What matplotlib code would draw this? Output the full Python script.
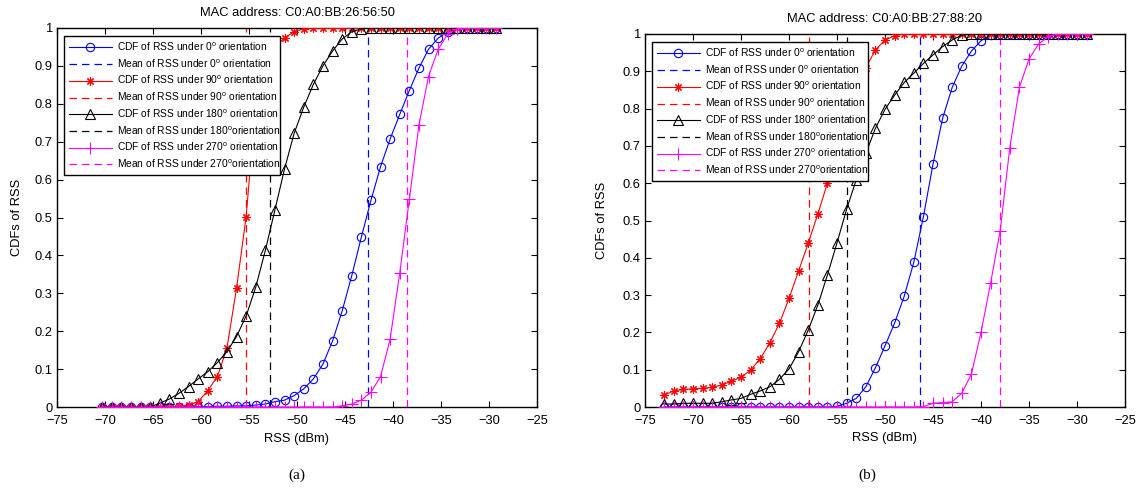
import matplotlib
matplotlib.use("Agg")
import matplotlib.pyplot as plt

plt.rcParams['font.family'] = ['Liberation Sans', 'DejaVu Sans']
plt.rcParams['mathtext.fontset'] = 'custom'
plt.rcParams['mathtext.rm'] = 'Liberation Sans'
plt.rcParams['mathtext.it'] = 'Liberation Sans'

# ---------------- data: panel (a) ----------------
title_a = "MAC address: C0:A0:BB:26:56:50"
x_a = [-70.3, -69.3, -68.3, -67.3, -66.3, -65.3, -64.3, -63.3, -62.3, -61.3,
       -60.3, -59.3, -58.3, -57.3, -56.3, -55.3, -54.3, -53.3, -52.3, -51.3,
       -50.3, -49.3, -48.3, -47.3, -46.3, -45.3, -44.3, -43.3, -42.3, -41.3,
       -40.3, -39.3, -38.3, -37.3, -36.3, -35.3, -34.3, -33.3, -32.3, -31.3,
       -30.3, -29.3]
cdf0_a = [0, 0, 0, 0, 0, 0, 0, 0, 0, 0, 0.001, 0.001, 0.002, 0.002, 0.003, 0.003,
          0.005, 0.008, 0.014, 0.018, 0.03, 0.048, 0.074, 0.113, 0.174, 0.253,
          0.346, 0.448, 0.545, 0.634, 0.707, 0.772, 0.835, 0.894, 0.944, 0.973,
          0.99, 0.998, 1, 1, 1, 1]
cdf90_a = [0, 0, 0, 0, 0, 0, 0, 0.001, 0.002, 0.005, 0.014, 0.043, 0.08, 0.155,
           0.313, 0.502, 0.8, 0.9, 0.95, 0.974, 0.99, 0.998,
           1, 1, 1, 1, 1, 1, 1, 1, 1, 1, 1, 1, 1, 1, 1, 1, 1, 1, 1, 1]
cdf180_a = [0, 0, 0, 0, 0, 0, 0.01, 0.021, 0.036, 0.054, 0.074, 0.093, 0.117,
            0.146, 0.186, 0.24, 0.316, 0.413, 0.52, 0.628, 0.722, 0.791, 0.851,
            0.9, 0.939, 0.971, 0.99, 0.998,
            1, 1, 1, 1, 1, 1, 1, 1, 1, 1, 1, 1, 1, 1]
cdf270_a = [0, 0, 0, 0, 0, 0, 0, 0, 0, 0, 0, 0, 0, 0, 0, 0, 0, 0, 0, 0, 0, 0, 0,
            0, 0, 0.003, 0.008, 0.018, 0.039, 0.08, 0.179, 0.353, 0.548, 0.744,
            0.872, 0.944, 0.984, 0.998, 1, 1, 1, 1]
means_a = [-42.6, -55.3, -52.8, -38.5]   # 0, 90, 180, 270 degrees

# ---------------- data: panel (b) ----------------
title_b = "MAC address: C0:A0:BB:27:88:20"
x_b = [-73, -72, -71, -70, -69, -68, -67, -66, -65, -64, -63, -62, -61, -60,
       -59, -58, -57, -56, -55, -54, -53, -52, -51, -50, -49, -48, -47, -46,
       -45, -44, -43, -42, -41, -40, -39, -38, -37, -36, -35, -34, -33, -32,
       -31, -30, -29]
cdf0_b = [0, 0, 0, 0, 0, 0, 0, 0, 0, 0, 0, 0, 0, 0, 0, 0, 0, 0, 0.002,
          0.01, 0.023, 0.054, 0.105, 0.164, 0.225, 0.297, 0.388, 0.51, 0.651,
          0.774, 0.857, 0.914, 0.954, 0.982, 0.997,
          1, 1, 1, 1, 1, 1, 1, 1, 1, 1]
cdf90_b = [0.032, 0.043, 0.047, 0.049, 0.05, 0.053, 0.059, 0.069, 0.08, 0.099,
           0.129, 0.172, 0.224, 0.291, 0.365, 0.439, 0.517, 0.6, 0.69, 0.77,
           0.85, 0.91, 0.957, 0.984, 0.995,
           1, 1, 1, 1, 1, 1, 1, 1, 1, 1, 1, 1, 1, 1, 1, 1, 1, 1, 1, 1]
cdf180_b = [0.008, 0.008, 0.01, 0.01, 0.01, 0.01, 0.014, 0.019, 0.023, 0.034,
            0.043, 0.054, 0.074, 0.102, 0.148, 0.206, 0.273, 0.354, 0.44, 0.53,
            0.609, 0.68, 0.747, 0.798, 0.836, 0.87, 0.895, 0.921, 0.944, 0.966,
            0.984, 0.997, 1, 1, 1, 1, 1, 1, 1, 1, 1, 1, 1, 1, 1]
cdf270_b = [0, 0, 0, 0, 0, 0, 0, 0, 0, 0, 0, 0, 0, 0, 0, 0, 0, 0, 0, 0, 0, 0,
            0, 0, 0, 0, 0, 0.001, 0.01, 0.012, 0.014, 0.037, 0.088, 0.2, 0.332,
            0.473, 0.695, 0.857, 0.933, 0.973, 0.993, 1, 1, 1, 1]
means_b = [-46.4, -57.9, -54.0, -38.0]

orient = ["0", "90", "180", "270"]
colors = ["#0000ff", "#ff0000", "#000000", "#ff00ff"]
markers = ["o", (8, 2, 0), "^", "+"]
msizes = [6, 6, 6.5, 8]
cdf_labels = ["CDF of RSS under 0$^{\\mathrm{o}}$ orientation",
              "CDF of RSS under 90$^{\\mathrm{o}}$ orientation",
              "CDF of RSS under 180$^{\\mathrm{o}}$ orientation",
              "CDF of RSS under 270$^{\\mathrm{o}}$ orientation"]
mean_labels = ["Mean of RSS under 0$^{\\mathrm{o}}$ orientation",
               "Mean of RSS under 90$^{\\mathrm{o}}$ orientation",
               "Mean of RSS under 180$^{\\mathrm{o}}$orientation",
               "Mean of RSS under 270$^{\\mathrm{o}}$orientation"]

xticks = [-75, -70, -65, -60, -55, -50, -45, -40, -35, -30, -25]
yticks = [0, 0.1, 0.2, 0.3, 0.4, 0.5, 0.6, 0.7, 0.8, 0.9, 1]
ytick_labels = ["0", "0.1", "0.2", "0.3", "0.4", "0.5", "0.6", "0.7", "0.8", "0.9", "1"]

W, H = 1142, 491
fig = plt.figure(figsize=(W / 100, H / 100), dpi=100)


def panel(rect, x, cdfs, means, title, ylabx, leg_top):
    ax = fig.add_axes(rect)
    for k in range(4):
        ax.plot(x, cdfs[k], color=colors[k], lw=0.8, marker=markers[k],
                ms=msizes[k], mfc='none', mec=colors[k], mew=0.8,
                label=cdf_labels[k], zorder=3)
        ax.plot([means[k], means[k]], [0, 1], color=colors[k], lw=0.9,
                dashes=(6, 4), label=mean_labels[k], zorder=2)
    ax.set_xlim(-75, -25)
    ax.set_ylim(0, 1)
    ax.set_xticks(xticks)
    ax.set_yticks(yticks)
    ax.set_yticklabels(ytick_labels)
    ax.tick_params(direction='in', top=True, right=True, length=4, width=0.8,
                   labelsize=9.3)
    ax.tick_params(axis='x', pad=5.5)
    ax.tick_params(axis='y', pad=3)
    for s in ax.spines.values():
        s.set_linewidth(1.0)
    ax.set_title(title, fontsize=9.3, pad=8.5)
    ax.set_xlabel("RSS (dBm)", fontsize=9.3, va='center')
    ax.set_ylabel("CDFs of RSS", fontsize=9.3, va='center')
    ax.xaxis.set_label_coords(0.5, -0.084)
    ax.yaxis.set_label_coords(ylabx, 0.5)
    h, l = ax.get_legend_handles_labels()
    leg = ax.legend(h, l,
                    loc='upper left', bbox_to_anchor=(0.0146, leg_top, 0.45, 0),
                    mode='expand', borderaxespad=0, fontsize=7.4,
                    handlelength=4.2, handletextpad=0.5, labelspacing=0.42,
                    borderpad=0.45, fancybox=False, framealpha=1,
                    edgecolor='black')
    leg.get_frame().set_linewidth(1.0)
    leg.set_zorder(10)
    return ax


axa = panel([57 / W, 1 - 407 / H, 480 / W, 379 / H], x_a,
            [cdf0_a, cdf90_a, cdf180_a, cdf270_a], means_a, title_a, -0.083, 0.979)
axb = panel([645 / W, 1 - 407 / H, 480 / W, 373 / H], x_b,
            [cdf0_b, cdf90_b, cdf180_b, cdf270_b], means_b, title_b, -0.09, 0.9786)

fig.text(297 / W, 1 - 475 / H, "(a)", ha='center', va='center',
         family=['Liberation Serif', 'DejaVu Serif'], fontsize=11)
fig.text(867 / W, 1 - 475 / H, "(b)", ha='center', va='center',
         family=['Liberation Serif', 'DejaVu Serif'], fontsize=11)

fig.savefig("out.png", dpi=100)
